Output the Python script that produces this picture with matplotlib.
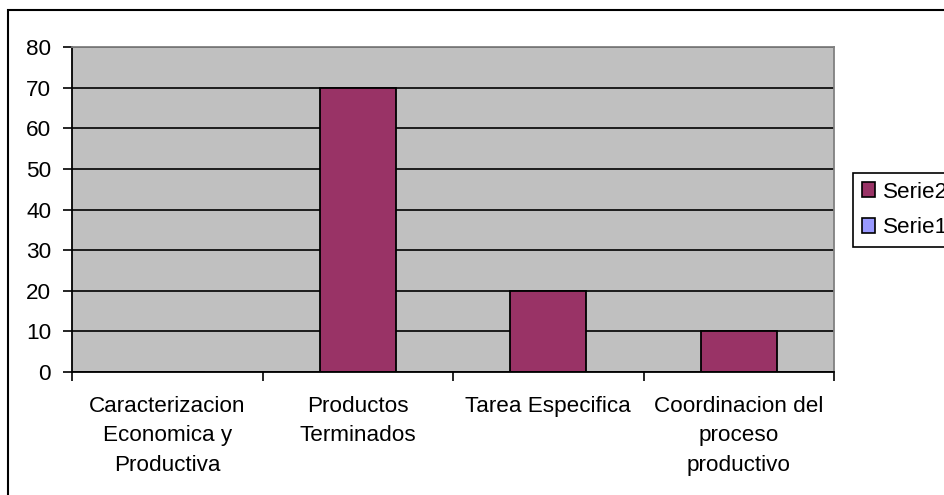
import numpy as np
import matplotlib
matplotlib.use('Agg')
import matplotlib.pyplot as plt
from matplotlib.patches import Rectangle, Patch

# datos del grafico
categorias = ['Caracterizacion\nEconomica y\nProductiva', 'Productos\nTerminados',
              'Tarea Especifica', 'Coordinacion del\nproceso\nproductivo']
serie1 = [0, 0, 0, 0]
serie2 = [0, 70, 20, 10]
y_ticks = [0, 10, 20, 30, 40, 50, 60, 70, 80]

color_serie2 = '#993366'
color_serie1 = '#9999FF'

plt.rcParams['font.family'] = ['Liberation Sans', 'DejaVu Sans']
tam = 16.2

fig = plt.figure(figsize=(9.44, 4.95), dpi=100)
ax = fig.add_axes([0.0763, 0.2485, 0.8072, 0.6565])
ax.set_facecolor('#C0C0C0')

x = np.arange(len(categorias))
ax.bar(x, serie1, width=0.4, color=color_serie1, linewidth=0)
ax.bar(x, serie2, width=0.4, color=color_serie2, edgecolor='black', linewidth=1.3, zorder=2)

ax.set_xlim(-0.5, len(categorias) - 0.5)
ax.set_ylim(0, 80)
ax.set_yticks(y_ticks)
ax.set_yticklabels([str(v) for v in y_ticks], fontsize=tam)

ax.set_xticks(x)
ax.set_xticklabels(categorias, fontsize=tam, linespacing=1.55)
ax.set_xticks(np.arange(len(categorias) + 1) - 0.5, minor=True)
ax.tick_params(axis='x', which='major', length=0, pad=17)
ax.tick_params(axis='x', which='minor', length=6.5, width=1.2, direction='out')
ax.tick_params(axis='y', length=6.5, width=1.2, pad=8.5)

ax.set_axisbelow(True)
ax.yaxis.grid(True, color='black', linewidth=1.2)

for lado in ['left', 'bottom']:
    ax.spines[lado].set_color('black')
    ax.spines[lado].set_linewidth(1.3)
for lado in ['top', 'right']:
    ax.spines[lado].set_color('#808080')
    ax.spines[lado].set_linewidth(1.3)

# leyenda
handles = [Patch(facecolor=color_serie2, edgecolor='black', linewidth=1.2),
           Patch(facecolor=color_serie1, edgecolor='black', linewidth=1.2)]
leg = fig.legend(handles, ['Serie2', 'Serie1'], loc='upper left',
                 bbox_to_anchor=(0.9036, 0.6505), fontsize=tam,
                 handlelength=0.6, handleheight=0.6, handletextpad=0.33,
                 labelspacing=0.66, borderpad=0.38, borderaxespad=0,
                 fancybox=False, framealpha=1, edgecolor='black')
leg.get_frame().set_linewidth(1.2)

# borde exterior
fig.add_artist(Rectangle((0.0085, -0.1), 1.2, 1.08, transform=fig.transFigure,
                         fill=False, edgecolor='black', linewidth=1.5))

fig.savefig('out.png', dpi=100)
